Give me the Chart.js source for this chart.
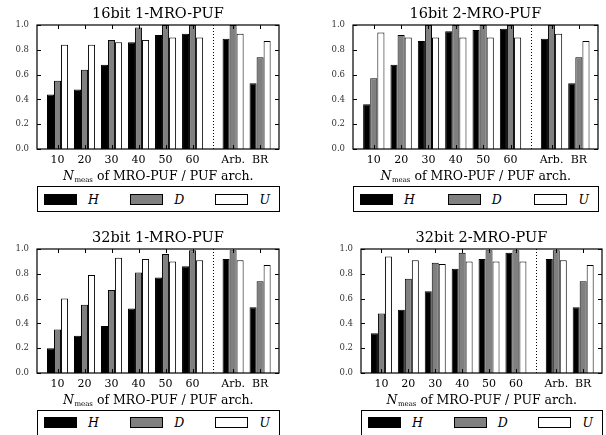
<!DOCTYPE html>
<html>
<head>
<meta charset="utf-8">
<script src="https://cdn.jsdelivr.net/npm/chart.js@4.4.1/dist/chart.umd.min.js"></script>
<style>
  html, body { margin: 0; padding: 0; background: #fff; }
  #page { position: relative; width: 606px; height: 435px; overflow: hidden; }
  .panel { position: absolute; width: 303px; height: 217px; }
  .panel canvas { position: absolute; left: 0; top: 0; }
  .legend {
    position: absolute; top: 186px; height: 26px; box-sizing: border-box;
    border: 1.3px solid #000; display: flex; align-items: center;
    justify-content: space-between; padding: 0 9px 0 6px; color: #000;
    font-family: "DejaVu Serif", serif; font-style: italic; font-size: 12.5px;
  }
  .legend .item { display: flex; align-items: center; }
  .legend .sw { width: 33px; height: 11px; box-sizing: border-box; border: 1px solid #000; margin-right: 11px; }
</style>
</head>
<body>
<div id="page"></div>
<script>
// group labels along the x axis
const categories = ["10", "20", "30", "40", "50", "60", "Arb.", "BR"];
const seriesNames = ["H", "D", "U"];
const yTicks = [0, 0.2, 0.4, 0.6, 0.8, 1.0];

// 16bit 1-MRO-PUF
const h16one = [0.44, 0.48, 0.68, 0.86, 0.92, 0.93, 0.89, 0.53];
const d16one = [0.55, 0.64, 0.88, 0.98, 1.00, 1.00, 1.00, 0.74];
const u16one = [0.84, 0.84, 0.86, 0.88, 0.90, 0.90, 0.93, 0.87];

// 16bit 2-MRO-PUF
const h16two = [0.36, 0.68, 0.87, 0.95, 0.96, 0.97, 0.89, 0.53];
const d16two = [0.57, 0.92, 1.00, 1.00, 1.00, 1.00, 1.00, 0.74];
const u16two = [0.94, 0.90, 0.90, 0.90, 0.90, 0.90, 0.93, 0.87];

// 32bit 1-MRO-PUF
const h32one = [0.20, 0.30, 0.38, 0.52, 0.77, 0.86, 0.92, 0.53];
const d32one = [0.35, 0.55, 0.67, 0.81, 0.96, 0.99, 0.99, 0.74];
const u32one = [0.60, 0.79, 0.93, 0.92, 0.90, 0.91, 0.91, 0.87];

// 32bit 2-MRO-PUF
const h32two = [0.32, 0.51, 0.66, 0.84, 0.92, 0.97, 0.92, 0.53];
const d32two = [0.48, 0.76, 0.89, 0.97, 0.99, 0.99, 0.99, 0.74];
const u32two = [0.94, 0.91, 0.88, 0.90, 0.90, 0.90, 0.91, 0.87];

const FONT = "DejaVu Serif";
const fills = ["#000000", "#808080", "#ffffff"];

// the PUF architectures (Arb., BR) sit after a half-group gap
const xPos = categories.map((c, i) => (i < 6 ? i : i + 0.5));
const separator = (xPos[5] + xPos[6]) / 2;

const panels = [
  { title: "16bit 1-MRO-PUF", data: [h16one, d16one, u16one], left: 0,   top: 0,     plotL: 37, plotR: 279 },
  { title: "16bit 2-MRO-PUF", data: [h16two, d16two, u16two], left: 303, top: 0,     plotL: 50, plotR: 295 },
  { title: "32bit 1-MRO-PUF", data: [h32one, d32one, u32one], left: 0,   top: 223.5, plotL: 37, plotR: 279 },
  { title: "32bit 2-MRO-PUF", data: [h32two, d32two, u32two], left: 303, top: 223.5, plotL: 58, plotR: 299 },
];

const CANVAS_H = 184;
const PLOT_BOTTOM = 149;

// frame, inward ticks, dotted separator and the x-axis title with subscript
const framePlugin = {
  id: "frame",
  afterDatasetsDraw(chart) {
    const { ctx, chartArea: a, scales: { x, y } } = chart;
    ctx.save();
    ctx.strokeStyle = "#000";

    // dotted line between MRO-PUF groups and PUF architectures
    const sx = Math.round(x.getPixelForValue(separator)) + 0.5;
    ctx.lineWidth = 1;
    ctx.setLineDash([1, 2]);
    ctx.beginPath();
    ctx.moveTo(sx, a.top);
    ctx.lineTo(sx, a.bottom);
    ctx.stroke();
    ctx.setLineDash([]);

    // ticks pointing inwards on all four sides
    const L = 4;
    ctx.beginPath();
    y.ticks.forEach((t) => {
      const py = Math.round(y.getPixelForValue(t.value)) + 0.5;
      ctx.moveTo(a.left, py); ctx.lineTo(a.left + L, py);
      ctx.moveTo(a.right, py); ctx.lineTo(a.right - L, py);
    });
    x.ticks.forEach((t) => {
      const px = Math.round(x.getPixelForValue(t.value)) + 0.5;
      ctx.moveTo(px, a.top); ctx.lineTo(px, a.top + L);
      ctx.moveTo(px, a.bottom); ctx.lineTo(px, a.bottom - L);
    });
    ctx.stroke();

    ctx.lineWidth = 1.2;
    ctx.strokeRect(a.left, a.top, a.width, a.height);

    // x-axis title: N_meas of MRO-PUF / PUF arch.
    const base = a.bottom + 31;
    const fN = "italic 12.5px '" + FONT + "'";
    const fSub = "7px '" + FONT + "'";
    const fRest = "12.5px '" + FONT + "'";
    const rest = " of MRO-PUF / PUF arch.";
    ctx.font = fN; const wN = ctx.measureText("N").width;
    ctx.font = fSub; const wS = ctx.measureText("meas").width;
    ctx.font = fRest; const wR = ctx.measureText(rest).width;
    let tx = (a.left + a.right) / 2 - (wN + wS + wR) / 2;
    ctx.fillStyle = "#000";
    ctx.textBaseline = "alphabetic";
    ctx.textAlign = "left";
    ctx.font = fN; ctx.fillText("N", tx, base); tx += wN + 0.5;
    ctx.font = fSub; ctx.fillText("meas", tx, base + 2); tx += wS;
    ctx.font = fRest; ctx.fillText(rest, tx, base);
    ctx.restore();
  },
};

const page = document.getElementById("page");

panels.forEach((p) => {
  const div = document.createElement("div");
  div.className = "panel";
  div.style.left = p.left + "px";
  div.style.top = p.top + "px";
  const canvas = document.createElement("canvas");
  canvas.width = 303;
  canvas.height = CANVAS_H;
  div.appendChild(canvas);

  // legend box under the plot
  const leg = document.createElement("div");
  leg.className = "legend";
  leg.style.left = p.plotL + "px";
  leg.style.width = (p.plotR - p.plotL + 1) + "px";
  seriesNames.forEach((name, k) => {
    const item = document.createElement("div");
    item.className = "item";
    const sw = document.createElement("span");
    sw.className = "sw";
    sw.style.background = fills[k];
    const lab = document.createElement("span");
    lab.textContent = name;
    item.appendChild(sw);
    item.appendChild(lab);
    leg.appendChild(item);
  });
  div.appendChild(leg);
  page.appendChild(div);

  new Chart(canvas.getContext("2d"), {
    type: "bar",
    data: {
      datasets: seriesNames.map((name, k) => ({
        label: name,
        data: p.data[k].map((v, i) => ({ x: xPos[i], y: v })),
        backgroundColor: fills[k],
        borderColor: "#000",
        borderWidth: 1,
        categoryPercentage: 0.78,
        barPercentage: 1.0,
      })),
    },
    options: {
      responsive: false,
      animation: false,
      devicePixelRatio: 1,
      layout: { padding: { left: 0, right: 303 - p.plotR, top: 0, bottom: 0 } },
      plugins: {
        legend: { display: false },
        tooltip: { enabled: false },
        title: {
          display: true,
          text: p.title,
          fullSize: false,
          color: "#000",
          font: { family: FONT, size: 14.5, weight: "normal", lineHeight: 1.2 },
          padding: { top: 5.6, bottom: 2 },
        },
      },
      scales: {
        x: {
          type: "linear",
          min: -0.76,
          max: 8.2,
          offset: false,
          grid: { display: false, drawTicks: false },
          border: { display: false },
          afterBuildTicks: (s) => { s.ticks = xPos.map((v) => ({ value: v })); },
          afterFit: (s) => { s.height = CANVAS_H - PLOT_BOTTOM; },
          ticks: {
            autoSkip: false,
            maxRotation: 0,
            padding: 5,
            color: "#000",
            font: { family: FONT, size: 11 },
            callback: (v, i) => categories[i],
          },
        },
        y: {
          min: 0,
          max: 1,
          grid: { display: false, drawTicks: false },
          border: { display: false },
          afterBuildTicks: (s) => { s.ticks = yTicks.map((v) => ({ value: v })); },
          afterFit: (s) => { s.width = p.plotL; },
          ticks: {
            padding: 8,
            color: "#333",
            font: { family: FONT, size: 8.5 },
            callback: (v) => Number(v).toFixed(1),
          },
        },
      },
    },
    plugins: [framePlugin],
  });
});
</script>
</body>
</html>
